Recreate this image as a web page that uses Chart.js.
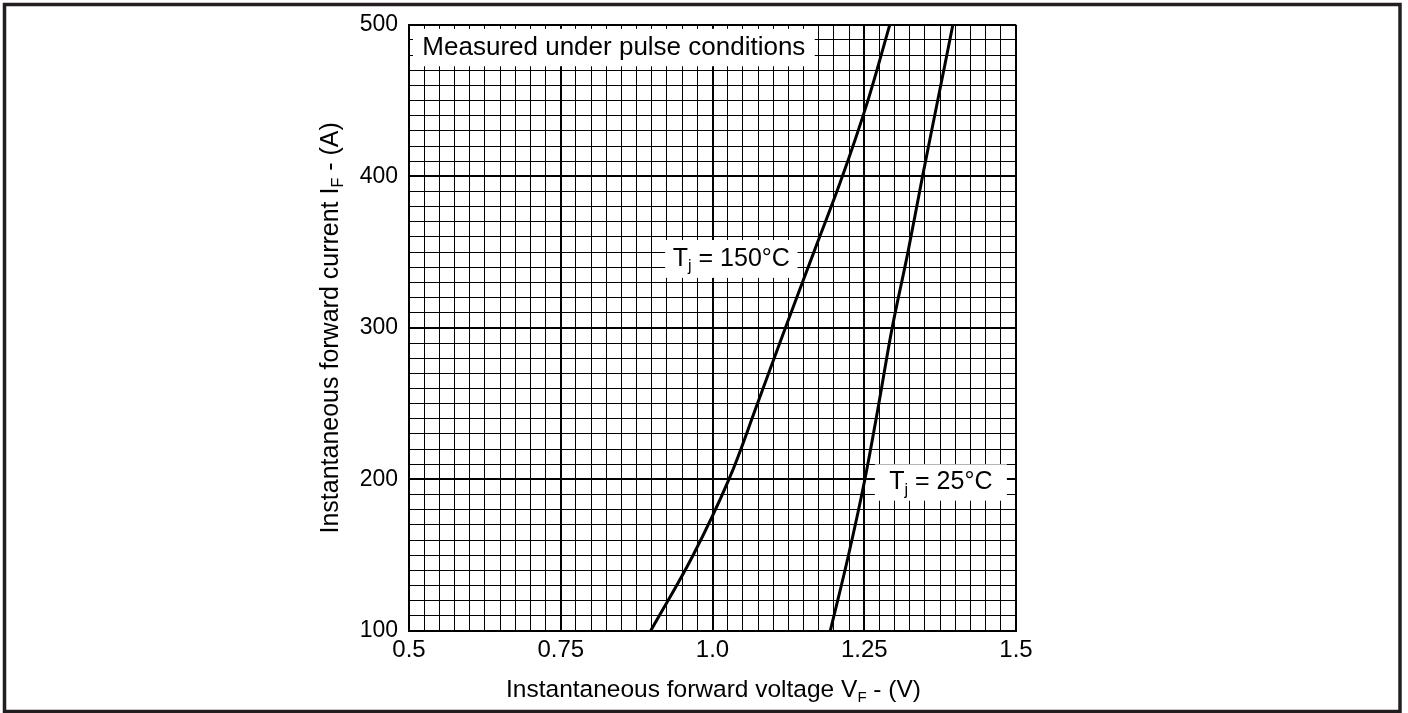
<!DOCTYPE html>
<html>
<head>
<meta charset="utf-8">
<script src="https://cdn.jsdelivr.net/npm/chart.js@4"></script>
<style>
    html, body { margin: 0; padding: 0; background: #fff; }
    #wrap { position: relative; width: 1408px; height: 713px; }
</style>
</head>
<body>
<div id="wrap"><canvas id="vfChart" width="1408" height="713"></canvas></div>
<script>
// forward current (A) and the forward voltage (V)
const currentA = [100, 150, 200, 250, 300, 350, 400, 450, 500];
const vfHot = [0.898, 0.968, 1.027, 1.074, 1.12, 1.167, 1.214, 1.256, 1.292];   // Tj = 150 C
const vfCold = [1.194, 1.224, 1.251, 1.274, 1.296, 1.322, 1.346, 1.371, 1.396]; // Tj = 25 C

const xTickValues = [0.5, 0.75, 1.0, 1.25, 1.5];
const xTickLabels = ['0.5', '0.75', '1.0', '1.25', '1.5'];
const yTickValues = [100, 200, 300, 400, 500];
const yTickLabels = ['100', '200', '300', '400', '500'];

const FONT = '"Liberation Sans", Arial, Helvetica, sans-serif';
const INK = '#000';

// note boxes, placed in data units
const notes = [
    { parts: [['Measured under pulse conditions', false]], box: [0.5, 1.175, 470, 500], inset: 4, size: 26 },
    { parts: [['T', false], ['j', true], [' = 150°C', false]], box: [0.922, 1.14, 333, 358], inset: 0, size: 25 },
    { parts: [['T', false], ['j', true], [' = 25°C', false]], box: [1.2675, 1.485, 186, 210], inset: 0, size: 25 },
];

const labelOf = (values, labels, v) => {
    const i = values.findIndex((t) => Math.abs(t - v) < 1e-6);
    return i >= 0 ? labels[i] : '';
};
const isMajorX = (v) => Math.abs(v * 4 - Math.round(v * 4)) < 1e-6;
const isMajorY = (v) => Math.abs(v / 100 - Math.round(v / 100)) < 1e-6;

function richWidth(ctx, parts, size) {
    let w = 0;
    parts.forEach(([t, sub]) => {
        ctx.font = `${sub ? Math.round(size * 0.62) : size}px ${FONT}`;
        w += ctx.measureText(t).width;
    });
    return w;
}

// draws text with subscripts, centred on x, vertically middle on y
function drawRich(ctx, parts, x, y, size) {
    let cx = x - richWidth(ctx, parts, size) / 2;
    ctx.textAlign = 'left';
    ctx.textBaseline = 'middle';
    ctx.fillStyle = INK;
    parts.forEach(([t, sub]) => {
        ctx.font = `${sub ? Math.round(size * 0.62) : size}px ${FONT}`;
        ctx.fillText(t, cx, sub ? y + size * 0.32 : y);
        cx += ctx.measureText(t).width;
    });
}

const notesPlugin = {
    id: 'notes',
    beforeDatasetsDraw(chart) {
        const { ctx, scales: { x, y } } = chart;
        ctx.save();
        notes.forEach((n) => {
            const left = x.getPixelForValue(n.box[0]) + n.inset;
            const right = x.getPixelForValue(n.box[1]) - n.inset;
            const top = y.getPixelForValue(n.box[3]) + n.inset;
            const bottom = y.getPixelForValue(n.box[2]) - n.inset;
            ctx.fillStyle = '#fff';
            ctx.fillRect(left, top, right - left, bottom - top);
            drawRich(ctx, n.parts, (left + right) / 2, (top + bottom) / 2, n.size);
        });
        ctx.restore();
    },
    afterDraw(chart) {
        const { ctx, chartArea: a } = chart;
        ctx.save();
        drawRich(ctx, [['Instantaneous forward voltage V', false], ['F', true], [' - (V)', false]],
            (a.left + a.right) / 2 + 1, 690, 24.5);
        ctx.translate(331, (a.top + a.bottom) / 2);
        ctx.rotate(-Math.PI / 2);
        drawRich(ctx, [['Instantaneous forward current I', false], ['F', true], [' - (A)', false]], 0, 0, 25);
        ctx.restore();

        // outer frame
        ctx.save();
        ctx.strokeStyle = '#231f20';
        ctx.lineWidth = 3.5;
        ctx.strokeRect(4.5, 4.5, 1395.5, 707);
        ctx.restore();
    },
};

const curve = (xs) => xs.map((v, i) => ({ x: v, y: currentA[i] }));

new Chart(document.getElementById('vfChart'), {
    type: 'line',
    data: {
        datasets: [
            { label: 'Tj = 150°C', data: curve(vfHot), borderColor: INK, borderWidth: 3, pointRadius: 0, tension: 0.4 },
            { label: 'Tj = 25°C', data: curve(vfCold), borderColor: INK, borderWidth: 3, pointRadius: 0, tension: 0.4 },
        ],
    },
    options: {
        responsive: false,
        animation: false,
        devicePixelRatio: 1,
        layout: { padding: { left: 0, top: 23, right: 392, bottom: 0 } },
        plugins: { legend: { display: false }, tooltip: { enabled: false } },
        scales: {
            x: {
                type: 'linear',
                min: 0.5,
                max: 1.5,
                afterFit: (s) => { s.height = 82; },
                border: { display: true, color: INK, width: 2 },
                grid: { color: INK, drawTicks: false, lineWidth: (c) => (isMajorX(c.tick.value) ? 2 : 1) },
                ticks: {
                    stepSize: 0.025,
                    autoSkip: false,
                    maxRotation: 0,
                    padding: 5,
                    color: INK,
                    font: { family: FONT, size: 24 },
                    callback: (v) => labelOf(xTickValues, xTickLabels, v),
                },
            },
            y: {
                type: 'linear',
                min: 100,
                max: 500,
                afterFit: (s) => { s.width = 409; },
                border: { display: true, color: INK, width: 2 },
                grid: { color: INK, drawTicks: false, lineWidth: (c) => (isMajorY(c.tick.value) ? 2 : 1) },
                ticks: {
                    stepSize: 10,
                    autoSkip: false,
                    padding: 11,
                    color: INK,
                    font: { family: FONT, size: 23 },
                    callback: (v) => labelOf(yTickValues, yTickLabels, v),
                },
            },
        },
    },
    plugins: [notesPlugin],
});
</script>
</body>
</html>
